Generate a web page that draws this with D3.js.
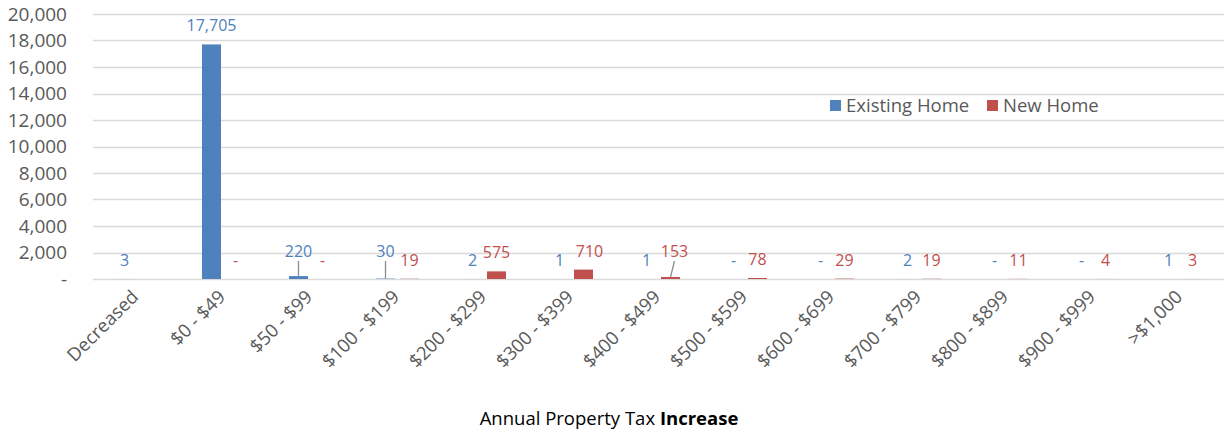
<!DOCTYPE html>
<html>
<head>
<meta charset="utf-8">
<script src="https://cdn.jsdelivr.net/npm/d3@7"></script>
<style>
  html, body { margin: 0; padding: 0; background: #fff; }
  svg { display: block; font-family: "Open Sans", "Noto Sans", sans-serif; }
</style>
</head>
<body>
<svg id="chart" width="1225" height="433"></svg>
<script>
// Homes by annual property tax increase band
const categories = ["Decreased", "$0 - $49", "$50 - $99", "$100 - $199", "$200 - $299",
  "$300 - $399", "$400 - $499", "$500 - $599", "$600 - $699", "$700 - $799",
  "$800 - $899", "$900 - $999", ">$1,000"];
const existingHome = [3, 17705, 220, 30, 2, 1, 1, 0, 0, 2, 0, 0, 1];
const newHome = [null, 0, 0, 19, 575, 710, 153, 78, 29, 19, 11, 4, 3];
const seriesNames = ["Existing Home", "New Home"];
const yTicks = [0, 2000, 4000, 6000, 8000, 10000, 12000, 14000, 16000, 18000, 20000];

// labels that sit higher and use a leader line back to their bar
const raisedLabels = [
  { series: 0, cat: "$50 - $99", leader: true },
  { series: 0, cat: "$100 - $199", leader: true },
  { series: 1, cat: "$300 - $399", leader: false, dx: 6 },
  { series: 1, cat: "$400 - $499", leader: true, dx: 4 }
];

const colors = ["#4F81BD", "#C0504D"];
const svg = d3.select("#chart");
const margin = { left: 93, right: 1224, top: 14, bottom: 279 };

const x = d3.scaleBand().domain(categories).range([margin.left, margin.right]);
const y = d3.scaleLinear().domain([0, 20000]).range([margin.bottom, margin.top]);
const barW = 19, barGap = 5;
const offsets = [-(barW + barGap) / 2, (barW + barGap) / 2];

// gridlines
svg.append("g")
  .selectAll("line").data(yTicks).join("line")
  .attr("x1", margin.left).attr("x2", margin.right)
  .attr("y1", d => Math.round(y(d)) + 0.5).attr("y2", d => Math.round(y(d)) + 0.5)
  .attr("stroke", "#D9D9D9").attr("stroke-width", 1.3);

// y axis labels
const yAxis = d3.axisLeft(y).tickValues(yTicks)
  .tickFormat(d => d === 0 ? "-" : d3.format(",")(d)).tickSize(0).tickPadding(0);
svg.append("g").attr("transform", "translate(67,0)").call(yAxis)
  .call(g => g.select(".domain").remove())
  .selectAll("text")
  .attr("fill", "#595959").attr("font-size", 19)
  .attr("font-family", "'Open Sans', sans-serif");

// bars
const seriesData = [existingHome, newHome];
seriesData.forEach((vals, s) => {
  svg.append("g").selectAll("rect")
    .data(vals.map((v, i) => ({ v, c: categories[i] })).filter(d => d.v))
    .join("rect")
    .attr("x", d => x(d.c) + x.bandwidth() / 2 + offsets[s] - barW / 2)
    .attr("width", barW)
    .attr("y", d => y(d.v))
    .attr("height", d => y(0) - y(d.v))
    .attr("fill", colors[s]);
});

// data labels
const baseLabelY = y(0) - 13;
seriesData.forEach((vals, s) => {
  const g = svg.append("g");
  vals.forEach((v, i) => {
    if (v === null) return;
    const c = categories[i];
    const cx = x(c) + x.bandwidth() / 2 + offsets[s];
    const raised = raisedLabels.find(r => r.series === s && r.cat === c);
    let ly = Math.min(y(v) - 13, baseLabelY);
    let lx = cx;
    if (raised) {
      ly = Math.min(ly, baseLabelY - 9);
      lx = cx + (raised.dx || 0);
      if (raised.leader) {
        g.append("line")
          .attr("x1", lx).attr("y1", ly + 4)
          .attr("x2", cx).attr("y2", y(v))
          .attr("stroke", "#8C8C8C").attr("stroke-width", 1.3);
      }
    }
    g.append("text")
      .attr("x", lx).attr("y", ly)
      .attr("text-anchor", "middle")
      .attr("font-size", 16)
      .attr("fill", colors[s])
      .text(v === 0 ? "-" : d3.format(",")(v));
  });
});

// x axis category labels
const xAxis = d3.axisBottom(x).tickSize(0).tickPadding(0);
svg.append("g").attr("transform", `translate(0,${margin.bottom})`).call(xAxis)
  .call(g => g.select(".domain").remove())
  .selectAll("text")
  .attr("fill", "#595959").attr("font-size", 18.5)
  .attr("font-family", "'Open Sans', sans-serif")
  .attr("text-anchor", "end")
  .attr("dy", 0)
  .attr("transform", "translate(3,19) rotate(-45)");

// x axis title
const title = svg.append("text")
  .attr("x", 609).attr("y", 425)
  .attr("text-anchor", "middle")
  .attr("font-size", 18.5).attr("fill", "#000");
title.append("tspan").text("Annual Property Tax ");
title.append("tspan").attr("font-weight", "bold").text("Increase");

// legend
const legend = svg.append("g");
const legendX = [830, 987];
seriesNames.forEach((name, s) => {
  legend.append("rect")
    .attr("x", legendX[s]).attr("y", 100).attr("width", 11).attr("height", 11)
    .attr("fill", colors[s]);
  legend.append("text")
    .attr("x", legendX[s] + 16).attr("y", 112)
    .attr("font-size", 18.5).attr("fill", "#595959")
    .text(name);
});
</script>
</body>
</html>
